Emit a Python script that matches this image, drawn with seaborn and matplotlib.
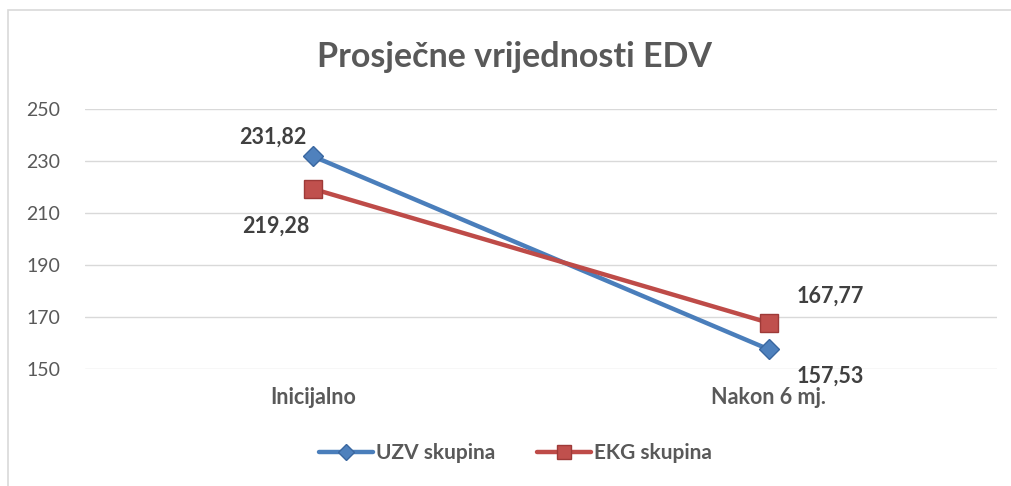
import pandas as pd
import matplotlib.pyplot as plt
import seaborn as sns
from matplotlib.patches import Rectangle

# data
categories = ["Inicijalno", "Nakon 6 mj."]
uzv_values = [231.82, 157.53]
ekg_values = [219.28, 167.77]
series_names = ["UZV skupina", "EKG skupina"]
y_ticks = [150, 170, 190, 210, 230, 250]

sns.set_theme(style="white")
plt.rcParams["font.family"] = ["Lato", "DejaVu Sans"]

df = pd.DataFrame({
    "pos": list(range(len(categories))) * 2,
    "value": uzv_values + ekg_values,
    "group": [series_names[0]] * len(categories) + [series_names[1]] * len(categories),
})

line_colors = {"UZV skupina": "#4A7EBB", "EKG skupina": "#BE4B48"}
marker_face = {"UZV skupina": "#4F81BD", "EKG skupina": "#C0504D"}
marker_edge = {"UZV skupina": "#3A67A0", "EKG skupina": "#9E3A38"}
marker_shape = {"UZV skupina": "D", "EKG skupina": "s"}
marker_size = {"UZV skupina": 10, "EKG skupina": 13}

fig = plt.figure(figsize=(10.11, 4.86), dpi=100)
ax = fig.add_axes([0.0841, 0.2407, 0.9019, 0.535])

for name in series_names:
    sub = df[df["group"] == name]
    sns.lineplot(
        data=sub, x="pos", y="value", ax=ax, color=line_colors[name],
        linewidth=3.2, marker=marker_shape[name], markersize=marker_size[name],
        markerfacecolor=marker_face[name], markeredgecolor=marker_edge[name],
        markeredgewidth=1, label=name, zorder=3,
    )

ax.set_xlim(-0.5, len(categories) - 0.5)
ax.set_ylim(150, 250)
ax.set_yticks(y_ticks)
ax.set_xticks(range(len(categories)))
ax.set_xticklabels(categories, fontsize=15.5, fontweight="bold", color="#595959")
ax.tick_params(axis="y", labelsize=14, labelcolor="#595959", pad=18, length=0)
ax.tick_params(axis="x", pad=13, length=0)
ax.set_xlabel("")
ax.set_ylabel("")
ax.grid(axis="y", color="#D9D9D9", linewidth=1)
ax.set_axisbelow(True)
sns.despine(ax=ax, left=True, bottom=True)

# data labels
offsets = {
    ("UZV skupina", 0): (-29, 14), ("EKG skupina", 0): (-27, -27),
    ("EKG skupina", 1): (44, 19), ("UZV skupina", 1): (44, -19),
}
for name, vals in zip(series_names, [uzv_values, ekg_values]):
    for i, v in enumerate(vals):
        ax.annotate(f"{v:.2f}".replace(".", ","), (i, v),
                    xytext=offsets[(name, i)], textcoords="offset points",
                    ha="center", va="center", fontsize=15.5, fontweight="bold",
                    color="#404040", annotation_clip=False)

fig.suptitle("Prosječne vrijednosti EDV", x=0.509, y=0.915, fontsize=24.5,
             fontweight="bold", color="#595959")

ax.get_legend().remove()
handles, labels = ax.get_legend_handles_labels()
leg = fig.legend(handles, labels, loc="center", bbox_to_anchor=(0.51, 0.068),
                 ncol=2, frameon=False, handlelength=2.6, columnspacing=2.0,
                 handletextpad=0.15,
                 prop={"size": 15, "weight": "bold"})
for t in leg.get_texts():
    t.set_color("#595959")
for h in leg.legend_handles:
    h.set_markersize(8 if h.get_marker() == "D" else 10)

# chart border
fig.patches.append(Rectangle((0.008, -0.01), 1.5, 0.99, transform=fig.transFigure,
                             fill=False, edgecolor="#D9D9D9", linewidth=1.2))

fig.savefig("out.png", dpi=100)
